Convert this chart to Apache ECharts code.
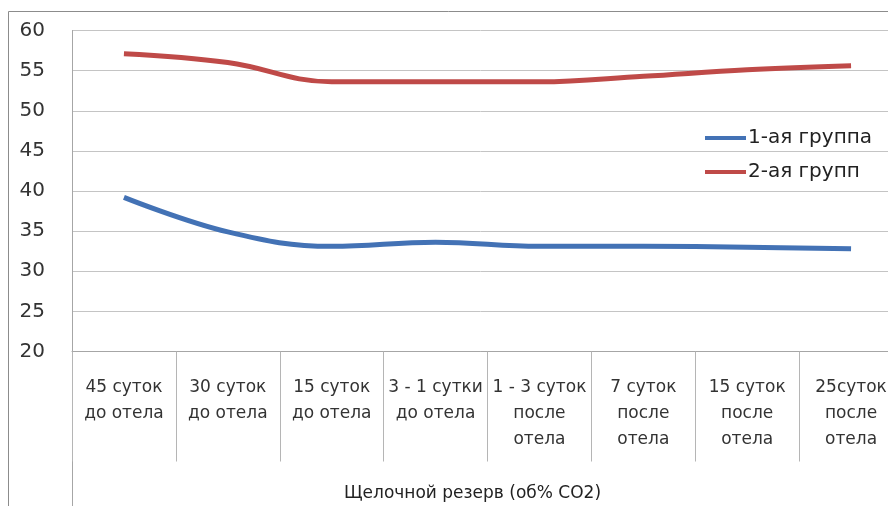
<!DOCTYPE html>
<html><head><meta charset="utf-8">
<script src="https://cdn.jsdelivr.net/npm/echarts@6/dist/echarts.min.js"></script>
<style>html,body{margin:0;padding:0;background:#fff}#c{width:888px;height:506px}</style>
</head><body><div id="c"></div>
<script>
const categories = ["45 суток\nдо отела","30 суток\nдо отела","15 суток\nдо отела","3 - 1 сутки\nдо отела","1 - 3 суток\nпосле\nотела","7 суток\nпосле\nотела","15 суток\nпосле\nотела","25суток\nпосле\nотела"];
const group1 = [39.2, 34.9, 33.1, 33.6, 33.1, 33.1, 33.0, 32.8];
const group2 = [57.1, 56.0, 53.6, 53.6, 53.6, 54.3, 55.1, 55.6];
const seriesNames = ["1-ая группа", "2-ая групп"];
const yTicks = {min: 20, max: 60, interval: 5};
const axisTitle = "Щелочной резерв (об% CO2)";

const chart = echarts.init(document.getElementById('c'));
const font = '"DejaVu Sans", sans-serif';
chart.setOption({
  animation: false,
  textStyle: {fontFamily: font},
  grid: {left: 72, top: 30.5, width: 831, height: 321, containLabel: false, outerBoundsMode: 'none'},
  legend: {
    orient: 'vertical', left: 700, top: 123, itemWidth: 41, itemHeight: 4, itemGap: 14,
    icon: 'rect',
    textStyle: {fontSize: 20, color: '#222', fontFamily: font, padding: [0,0,0,-3]},
    data: seriesNames
  },
  xAxis: {
    type: 'category', data: categories, boundaryGap: true,
    axisLine: {lineStyle: {color: '#a6a6a6', width: 1}},
    axisTick: {show: true, interval: 0, length: 110, lineStyle: {color: '#b5b5b5'}},
    axisLabel: {interval: 0, margin: 23, fontSize: 17, lineHeight: 26, color: '#333', fontFamily: font},
    name: axisTitle, nameLocation: 'middle', nameGap: 134,
    nameTextStyle: {fontSize: 17, color: '#222', fontFamily: font, padding: [0, 30, 0, 0]}
  },
  yAxis: {
    type: 'value', min: yTicks.min, max: yTicks.max, interval: yTicks.interval,
    axisLine: {show: true, lineStyle: {color: '#a6a6a6'}},
    axisTick: {show: false},
    axisLabel: {fontSize: 20, color: '#333', margin: 27, fontFamily: font},
    splitLine: {lineStyle: {color: '#c4c4c4', width: 1}}
  },
  series: [
    {name: seriesNames[0], type: 'line', data: group1, smooth: 0.4, symbol: 'none',
     lineStyle: {color: '#4372b5', width: 5}, itemStyle: {color: '#4372b5'}},
    {name: seriesNames[1], type: 'line', data: group2, smooth: 0.4, symbol: 'none',
     lineStyle: {color: '#bf4a48', width: 5}, itemStyle: {color: '#bf4a48'}}
  ],
  graphic: [
    {type: 'rect', shape: {x: 8.5, y: 11.5, width: 900, height: 520}, style: {fill: 'none', stroke: '#8c8c8c', lineWidth: 1}, silent: true},
    {type: 'line', shape: {x1: 72.5, y1: 351, x2: 72.5, y2: 506}, style: {stroke: '#a6a6a6', lineWidth: 1}, silent: true}
  ]
});
</script></body></html>
